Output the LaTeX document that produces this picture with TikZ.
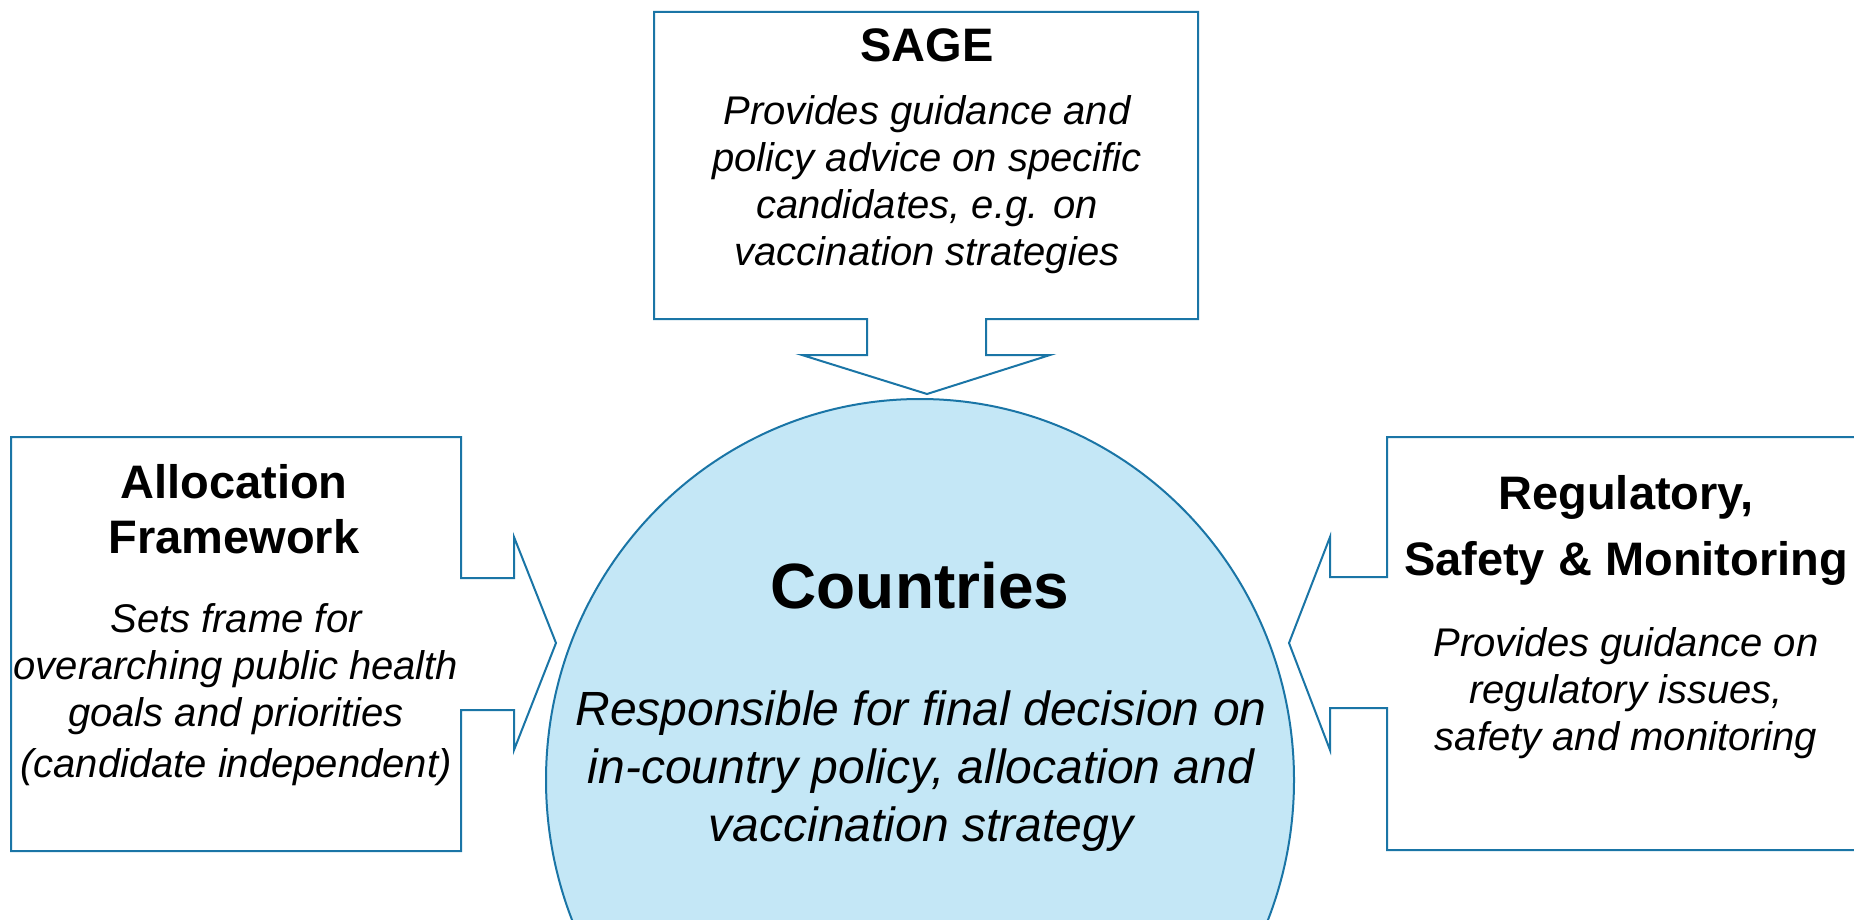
\documentclass[tikz,border=0pt]{standalone}
\usepackage{fontspec}
\setmainfont{Liberation Sans}
\definecolor{edge}{RGB}{26,117,166}
\definecolor{cfill}{RGB}{196,231,246}
\tikzset{
  callout/.style={draw=edge, line width=2pt, fill=white, line join=miter},
  hub/.style={draw=edge, line width=2pt, fill=cfill},
  ttl/.style={inner sep=0pt, align=center, font=\fontsize{47}{55}\selectfont\bfseries},
  body/.style={inner sep=0pt, align=center, font=\fontsize{40}{47}\selectfont\itshape},
  bigttl/.style={inner sep=0pt, align=center, font=\fontsize{64}{70}\selectfont\bfseries},
  bigbody/.style={inner sep=0pt, align=center, font=\fontsize{48}{58}\selectfont\itshape},
}
\begin{document}
\begin{tikzpicture}[x=1pt,y=-1pt]
\useasboundingbox (0,0) rectangle (1854,920);
\clip (0,0) rectangle (1854,920);
% central circle
\draw[hub] (920,780) ellipse [x radius=374, y radius=381];
\coordinate (hubc) at (920,780);
% SAGE callout
\draw[callout] (654,12) -- (1198,12) -- (1198,319) -- (986,319) -- (986,355) -- (1050,355)
  -- (927,394) -- (802,355) -- (867,355) -- (867,319) -- (654,319) -- cycle;
% left callout
\draw[callout] (11,437) -- (461,437) -- (461,578) -- (514,578) -- (514,537) -- (556,643)
  -- (514,750) -- (514,710) -- (461,710) -- (461,851) -- (11,851) -- cycle;
% right callout
\draw[callout] (1900,437) -- (1387,437) -- (1387,577) -- (1330,577) -- (1330,537) -- (1289,643)
  -- (1330,750) -- (1330,708) -- (1387,708) -- (1387,850) -- (1900,850) -- cycle;
% texts
\node[ttl] (sageT) at (927,45) {SAGE};
\node[body] (sageB) at (927,185) {Provides guidance and\\policy advice on specific\\candidates, e.g. on\\vaccination strategies};
\node[bigttl] (ctryT) at (920,586) {Countries};
\node[bigbody] (ctryB) at (921,771) {Responsible for final decision on\\in-country policy, allocation and\\vaccination strategy};
\node[ttl] (allocT) at (234,509) {Allocation\\Framework};
\node[body] (allocB) at (236,695) {Sets frame for\\overarching public health\\goals and priorities\\[4pt](candidate independent)};
\node[ttl, font=\fontsize{47}{66}\selectfont\bfseries] (regT) at (1626,530) {Regulatory,\\Safety \& Monitoring};
\node[body] (regB) at (1626,693) {Provides guidance on\\regulatory issues,\\safety and monitoring};
\end{tikzpicture}
\end{document}
